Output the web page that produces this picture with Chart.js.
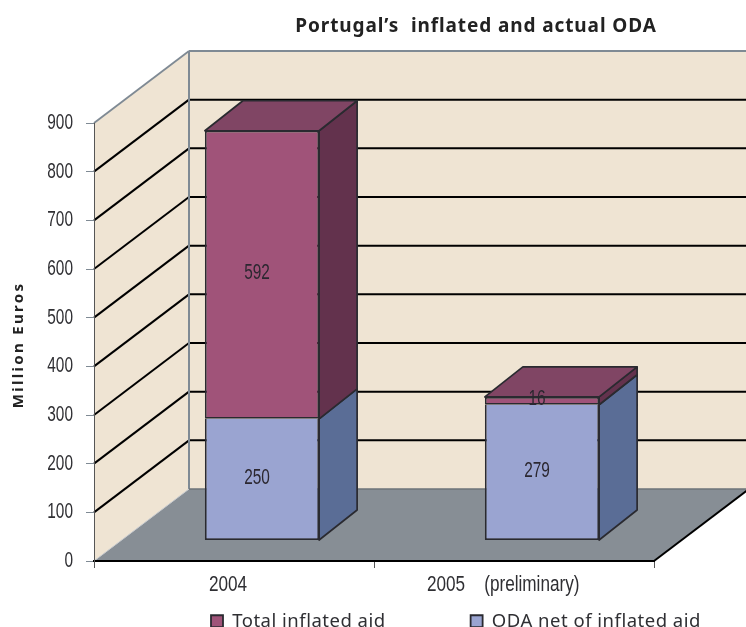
<!DOCTYPE html>
<html><head><meta charset="utf-8">
<style>html,body{margin:0;padding:0;background:#fff}canvas{display:block}</style>
<script src="https://cdn.jsdelivr.net/npm/chart.js@4"></script>
</head><body><canvas id="c" width="746" height="627"></canvas>
<script>
const categories = ['2004', '2005    (preliminary)  '];
const odaNetOfInflatedAid = [250, 279];
const totalInflatedAid = [592, 16];
const seriesNames = ['ODA net of inflated aid', 'Total inflated aid'];
const chartTitle = 'Portugal\u2019s  inflated and actual ODA';
const yAxisTitle = 'Million Euros';
const yMax = 900, yStep = 100;

const WALL = {dx: 95, dy: -72}, FRONT = {dx: 28, dy: -21}, BAR = {dx: 38, dy: -30};
const NARROW = '"Liberation Sans"', WIDE = '"Noto Sans"';
const look = [
  {front: '#9aa4d1', side: '#5a6d96', top: '#6d7da3'},
  {front: '#a05379', side: '#63324d', top: '#804564'}
];
const EDGE = '#2a2a30', GREY = '#7f8a94';

function poly(ctx, pts, fill, stroke, lw) {
  ctx.beginPath();
  pts.forEach((p, i) => i ? ctx.lineTo(p[0], p[1]) : ctx.moveTo(p[0], p[1]));
  ctx.closePath();
  if (fill) { ctx.fillStyle = fill; ctx.fill(); }
  if (stroke) { ctx.strokeStyle = stroke; ctx.lineWidth = lw; ctx.lineJoin = 'round'; ctx.stroke(); }
}
function line(ctx, x1, y1, x2, y2, color, lw) {
  ctx.beginPath(); ctx.moveTo(x1, y1); ctx.lineTo(x2, y2);
  ctx.strokeStyle = color; ctx.lineWidth = lw; ctx.stroke();
}
function spaced(chart, obj, method, px, dy) {
  const orig = obj[method], ctx = chart.ctx;
  obj[method] = function () {
    ctx.save();
    if (dy) ctx.translate(0, dy);
    ctx.letterSpacing = px;
    orig.apply(this, arguments);
    ctx.letterSpacing = '0px';
    ctx.restore();
  };
}
function narrowText(ctx, x, y, text, k, draw) {
  ctx.save();
  ctx.translate(x, y);
  ctx.scale(k, 1);
  draw.call(ctx, text, 0, 0);
  ctx.restore();
}
function squeezed(chart, scale, k) {
  const orig = scale.drawLabels, ctx = chart.ctx;
  scale.drawLabels = function () {
    const ft = ctx.fillText;
    ctx.fillText = function (t, x, y) { narrowText(ctx, x, y, t, k, ft); };
    orig.apply(this, arguments);
    delete ctx.fillText;
  };
}

const box3d = {
  id: 'box3d',
  beforeLayout(chart) {
    if (chart.$wrapped) return;
    chart.$wrapped = true;
    const lg = chart.legend, fit = lg.fit;
    lg.fit = function () { fit.apply(this, arguments); this.height = 0; };
    spaced(chart, lg, 'draw', '0.5px');
    spaced(chart, chart.titleBlock, 'draw', '0.9px');
    spaced(chart, chart.scales.y, 'drawTitle', '2.3px', 3);
    squeezed(chart, chart.scales.x, 0.78);
    squeezed(chart, chart.scales.y, 0.70);
  },
  afterLayout(chart) {
    const lg = chart.legend, t = chart.titleBlock;
    lg.left = 126; lg.right = 900; lg.top = 527;
    t.left = 295; t.right = 657;
  },
  beforeDraw(chart) {
    const {ctx, chartArea: a} = chart, y = chart.scales.y;
    const {dx, dy} = WALL;
    ctx.save();
    ctx.fillStyle = '#fff'; ctx.fillRect(0, 0, chart.width, chart.height);
    poly(ctx, [[a.left, a.top], [a.left + dx, a.top + dy], [a.left + dx, a.bottom + dy], [a.left, a.bottom]], '#efe4d3');
    poly(ctx, [[a.left + dx, a.top + dy], [a.right + dx, a.top + dy], [a.right + dx, a.bottom + dy], [a.left + dx, a.bottom + dy]], '#efe4d3');
    poly(ctx, [[a.left, a.bottom], [a.left + dx, a.bottom + dy], [a.right + dx, a.bottom + dy], [a.right, a.bottom]], '#878e95');
    y.ticks.forEach(t => {
      if (t.value <= 0 || t.value >= yMax) return;
      const py = y.getPixelForValue(t.value);
      line(ctx, a.left, py, a.left + dx, py + dy, '#000', 2);
      line(ctx, a.left + dx, py + dy, a.right + dx, py + dy, '#000', 2);
    });
    line(ctx, a.left, a.top, a.left + dx, a.top + dy, GREY, 1.8);
    line(ctx, a.left + dx, a.top + dy, a.right + dx, a.top + dy, GREY, 1.8);
    line(ctx, a.left + dx, a.top + dy, a.left + dx, a.bottom + dy, GREY, 2);
    line(ctx, a.left + dx, a.bottom + dy, a.right + dx, a.bottom + dy, '#6d7379', 1.4);
    line(ctx, a.left, a.bottom, a.left + dx, a.bottom + dy, '#c9cccf', 1);
    line(ctx, a.right, a.bottom, a.right + dx, a.bottom + dy, '#000', 2);
    ctx.restore();
  },
  beforeDatasetsDraw(chart) {
    const {ctx} = chart;
    ctx.save();
    ctx.translate(FRONT.dx, FRONT.dy + 0.5);
    const metas = [0, 1].map(i => chart.getDatasetMeta(i));
    metas.forEach((m, di) => m.data.forEach(el => {
      const r = el.x + el.width / 2;
      poly(ctx, [[r, el.y], [r + BAR.dx, el.y + BAR.dy], [r + BAR.dx, el.base + BAR.dy], [r, el.base]],
        look[di].side, EDGE, 1.7);
    }));
    metas[1].data.forEach(el => {
      const r = el.x + el.width / 2, l = el.x - el.width / 2;
      poly(ctx, [[l, el.y], [l + BAR.dx, el.y + BAR.dy], [r + BAR.dx, el.y + BAR.dy], [r, el.y]],
        look[1].top, EDGE, 1.7);
    });
  },
  afterDatasetsDraw(chart) {
    const {ctx} = chart;
    ctx.font = '22px ' + NARROW;
    ctx.textAlign = 'center'; ctx.textBaseline = 'middle';
    ctx.fillStyle = '#2b2730';
    [0, 1].forEach(di => chart.getDatasetMeta(di).data.forEach((el, i) => {
      narrowText(ctx, el.x - 5, (el.y + el.base) / 2 - 1.5, String(chart.data.datasets[di].data[i]), 0.70, ctx.fillText);
    }));
    ctx.restore();
  }
};

new Chart(document.getElementById('c'), {
  type: 'bar',
  data: {
    labels: categories,
    datasets: [
      {label: seriesNames[0], data: odaNetOfInflatedAid, backgroundColor: look[0].front, borderSkipped: 'top'},
      {label: seriesNames[1], data: totalInflatedAid, backgroundColor: look[1].front, borderSkipped: false}
    ]
  },
  options: {
    responsive: false, animation: false, devicePixelRatio: 1,
    layout: {padding: {left: 0, right: 92, top: 0, bottom: 0}},
    datasets: {bar: {barPercentage: 0.408, categoryPercentage: 1, borderColor: EDGE, borderWidth: 1.8}},
    scales: {
      x: {
        stacked: true,
        afterFit: s => { s.height = 66; },
        grid: {drawOnChartArea: false, drawTicks: true, tickLength: 7, color: '#555'},
        border: {display: true, color: '#000', width: 2},
        ticks: {color: '#2f2f33', font: {family: NARROW, size: 22}, padding: 4, maxRotation: 0, autoSkip: false, labelOffset: -6}
      },
      y: {
        stacked: true, min: 0, max: yMax,
        afterFit: s => { s.width = 94; },
        grid: {drawOnChartArea: false, drawTicks: true, tickLength: 8, color: GREY},
        border: {display: true, color: '#555', width: 1},
        ticks: {stepSize: yStep, color: '#2f2f33', font: {family: NARROW, size: 22}, padding: 13},
        title: {display: true, text: yAxisTitle, color: '#222', font: {family: WIDE, size: 15, weight: 'bold'}, padding: {top: 10, bottom: 0}}
      }
    },
    plugins: {
      title: {
        display: true, text: chartTitle, color: '#222',
        font: {family: WIDE, size: 19, weight: 'bold', lineHeight: 1.2},
        padding: {top: 15, bottom: 85.2}
      },
      legend: {
        display: true, position: 'bottom', align: 'start', reverse: true,
        labels: {boxWidth: 12, boxHeight: 12, padding: 85, color: '#2f2f33', font: {family: WIDE, size: 18.5}}
      },
      tooltip: {enabled: false}
    }
  },
  plugins: [box3d]
});
</script></body></html>
